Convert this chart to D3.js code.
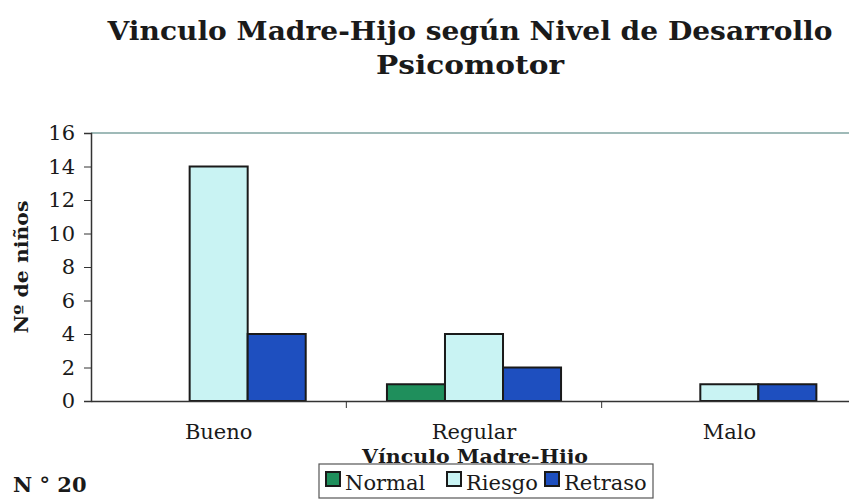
<!DOCTYPE html>
<html>
<head>
<meta charset="utf-8">
<script src="https://cdn.jsdelivr.net/npm/d3@7"></script>
<style>
  body { margin: 0; background: #fff; }
  svg { display: block; }
</style>
</head>
<body>
<div id="chart"></div>
<script>
// Chart data
const categories = ['Bueno', 'Regular', 'Malo'];
const seriesNames = ['Normal', 'Riesgo', 'Retraso'];
const normalValues = [0, 1, 0];
const riesgoValues = [14, 4, 1];
const retrasoValues = [4, 2, 1];
const yTicks = [0, 2, 4, 6, 8, 10, 12, 14, 16];

const colors = ['#1f8f5c', '#c9f3f3', '#1e4fbf'];

const width = 849;
const height = 499;
const margin = { top: 133, right: -8, bottom: 98, left: 91 };

const svg = d3
  .select('#chart')
  .append('svg')
  .attr('width', width)
  .attr('height', height)
  .style('font-family', "'DejaVu Serif', serif");

// Title
const title = svg.append('text').attr('text-anchor', 'middle').style('font-weight', 'bold').style('font-size', '26px').attr('fill', '#1a1a1a');
title
  .append('tspan')
  .attr('x', 470)
  .attr('y', 40)
  .attr('textLength', 725)
  .attr('lengthAdjust', 'spacingAndGlyphs')
  .text('Vinculo Madre-Hijo según Nivel de Desarrollo');
title
  .append('tspan')
  .attr('x', 470)
  .attr('y', 74)
  .attr('textLength', 188)
  .attr('lengthAdjust', 'spacingAndGlyphs')
  .text('Psicomotor');

// Scales
const x0 = d3
  .scaleBand()
  .domain(categories)
  .range([margin.left, width - margin.right])
  .padding(0);
const x1 = d3
  .scaleBand()
  .domain(seriesNames)
  .range([0, x0.bandwidth()])
  .paddingInner(0)
  .paddingOuter(0.7);
const y = d3
  .scaleLinear()
  .domain([0, 16])
  .range([height - margin.bottom, margin.top]);

// Top border of plot area
svg
  .append('line')
  .attr('x1', margin.left)
  .attr('x2', width)
  .attr('y1', y(16))
  .attr('y2', y(16))
  .attr('stroke', '#7fa3a0')
  .attr('stroke-width', 1.5);

// Bars
const rows = categories.map((c, i) => ({
  cat: c,
  vals: [normalValues[i], riesgoValues[i], retrasoValues[i]],
}));
const groups = svg
  .selectAll('.grp')
  .data(rows)
  .enter()
  .append('g')
  .attr('transform', (d) => `translate(${x0(d.cat)},0)`);
groups
  .selectAll('rect')
  .data((d) => d.vals.map((v, k) => ({ key: seriesNames[k], v: v, k: k })).filter((e) => e.v > 0))
  .enter()
  .append('rect')
  .attr('x', (d) => x1(d.key))
  .attr('y', (d) => y(d.v))
  .attr('width', x1.bandwidth())
  .attr('height', (d) => y(0) - y(d.v))
  .attr('fill', (d) => colors[d.k])
  .attr('stroke', '#1a1a1a')
  .style('stroke-width', '2px');

// Y axis
const yAxis = svg
  .append('g')
  .attr('transform', `translate(${margin.left},0)`)
  .call(d3.axisLeft(y).tickValues(yTicks).tickSize(7).tickPadding(9));
yAxis.select('.domain').attr('stroke', '#333').attr('stroke-width', 1.5);
yAxis.selectAll('.tick line').attr('stroke', '#333');
yAxis.selectAll('text').style('font-size', '21px').style('font-family', "'DejaVu Serif', serif").attr('fill', '#1a1a1a');

// X axis
const xAxis = svg
  .append('g')
  .attr('transform', `translate(0,${y(0)})`)
  .call(d3.axisBottom(x0).tickSize(0).tickPadding(23));
xAxis.select('.domain').attr('stroke', '#333').attr('stroke-width', 1.5);
xAxis.selectAll('text').style('font-size', '21px').style('font-family', "'DejaVu Serif', serif").attr('fill', '#1a1a1a');
// category separators
svg
  .selectAll('.sep')
  .data(categories.slice(1))
  .enter()
  .append('line')
  .attr('x1', (d) => x0(d))
  .attr('x2', (d) => x0(d))
  .attr('y1', y(0))
  .attr('y2', y(0) + 7)
  .attr('stroke', '#333');

// Axis titles
svg
  .append('text')
  .attr('transform', `translate(28,${(y(0) + y(16)) / 2}) rotate(-90)`)
  .attr('text-anchor', 'middle')
  .style('font-weight', 'bold')
  .style('font-size', '19px')
  .attr('textLength', 133)
  .attr('lengthAdjust', 'spacingAndGlyphs')
  .attr('fill', '#1a1a1a')
  .text('Nº de niños');
svg
  .append('text')
  .attr('x', 475)
  .attr('y', 463)
  .attr('text-anchor', 'middle')
  .style('font-weight', 'bold')
  .style('font-size', '19px')
  .attr('textLength', 226)
  .attr('lengthAdjust', 'spacingAndGlyphs')
  .attr('fill', '#1a1a1a')
  .text('Vínculo Madre-Hijo');

// Legend
const legend = svg.append('g').attr('transform', 'translate(319,464)');
legend.append('rect').attr('x', 0).attr('y', 0).attr('width', 334).attr('height', 34).attr('fill', '#fff').attr('stroke', '#555').attr('stroke-width', 1.2);
const legendX = [7, 128, 226];
const items = legend
  .selectAll('.item')
  .data(seriesNames)
  .enter()
  .append('g')
  .attr('transform', (d, i) => `translate(${legendX[i]},0)`);
items
  .append('rect')
  .attr('x', 0)
  .attr('y', 8)
  .attr('width', 14)
  .attr('height', 14)
  .attr('fill', (d, i) => colors[i])
  .attr('stroke', '#1a1a1a')
  .style('stroke-width', '2px');
items
  .append('text')
  .attr('x', 19)
  .attr('y', 26)
  .style('font-size', '21px')
  .attr('fill', '#1a1a1a')
  .text((d) => d);

// Figure caption
svg
  .append('text')
  .attr('x', 13)
  .attr('y', 492)
  .style('font-weight', 'bold')
  .style('font-size', '21px')
  .attr('fill', '#1a1a1a')
  .text('N ° 20');
</script>
</body>
</html>
